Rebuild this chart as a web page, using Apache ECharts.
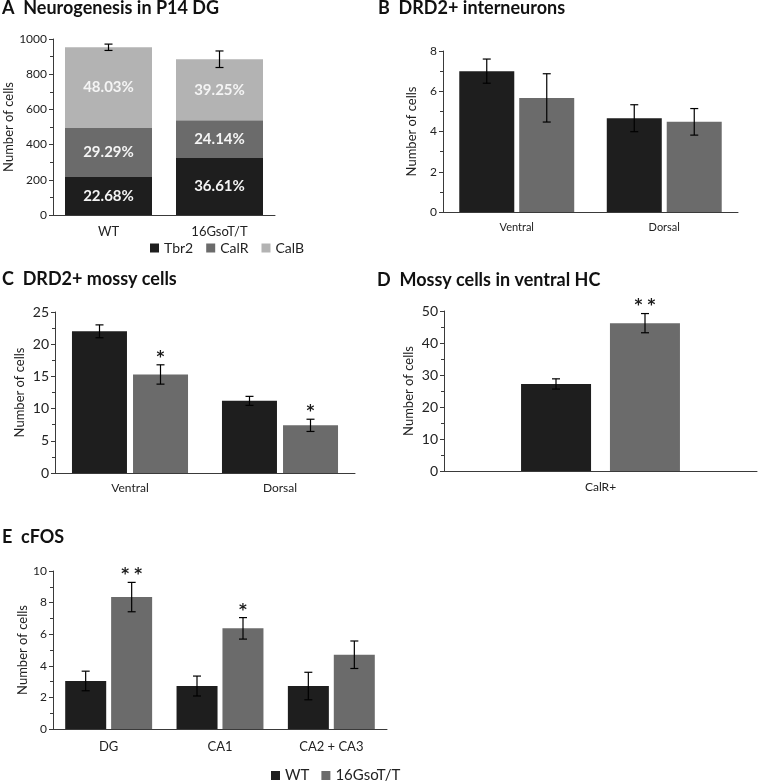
<!DOCTYPE html>
<html>
<head>
<meta charset="utf-8">
<script src="https://cdn.jsdelivr.net/npm/echarts@6/dist/echarts.min.js"></script>
<style>
html,body{margin:0;padding:0;background:#fff;}
#c{width:759px;height:782px;}
</style>
</head>
<body>
<div id="c"></div>
<script>
// ---------- DATA ----------
// Panel A: Neurogenesis in P14 DG (stacked)
const aCats = ['WT', '16GsoT/T'];
const aTbr2 = [216, 324];
const aCalR = [279, 214];
const aCalB = [458, 347];
const aTbr2Pct = ['22.68%', '36.61%'];
const aCalRPct = ['29.29%', '24.14%'];
const aCalBPct = ['48.03%', '39.25%'];
const aTotalErr = [18, 47];

// Panel B: DRD2+ interneurons
const bCats = ['Ventral', 'Dorsal'];
const bWT = [7.0, 4.66];
const bWTErr = [0.6, 0.67];
const bTg = [5.67, 4.48];
const bTgErr = [1.2, 0.66];

// Panel C: DRD2+ mossy cells
const cCats = ['Ventral', 'Dorsal'];
const cWT = [22.0, 11.2];
const cWTErr = [1.0, 0.7];
const cTg = [15.3, 7.4];
const cTgErr = [1.5, 0.95];
const cTgSig = ['*', '*'];

// Panel D: Mossy cells in ventral HC
const dCats = ['CalR+'];
const dWT = [27.2];
const dWTErr = [1.6];
const dTg = [46.2];
const dTgErr = [3.0];
const dTgSig = ['* *'];

// Panel E: cFOS
const eCats = ['DG', 'CA1', 'CA2 + CA3'];
const eWT = [3.04, 2.72, 2.72];
const eWTErr = [0.62, 0.63, 0.87];
const eTg = [8.35, 6.37, 4.70];
const eTgErr = [0.93, 0.68, 0.87];
const eTgSig = ['* *', '*', ''];

// ---------- STYLE ----------
const FONT = 'Lato';
const C_WT = '#1e1e1e';
const C_TG = '#6b6b6b';
const C_CALB = '#b3b3b3';
const AX = '#3a3a3a';

const chart = echarts.init(document.getElementById('c'), null, {renderer: 'canvas'});

function yAxisDef(gi, max, interval, fs, nameGap) {
  return {
    gridIndex: gi, type: 'value', min: 0, max: max, interval: interval,
    name: 'Number of cells', nameLocation: 'middle', nameGap: nameGap,
    nameTextStyle: {fontFamily: FONT, fontSize: 13, color: '#222'},
    axisLine: {show: true, lineStyle: {color: AX, width: 1}},
    axisTick: {show: true, length: 4, lineStyle: {color: AX}},
    minorTick: {show: true, splitNumber: 2, length: 3, lineStyle: {color: AX}},
    splitLine: {show: false},
    axisLabel: {fontFamily: FONT, fontSize: fs, color: '#222', margin: 6, formatter: v => String(v)}
  };
}
function xAxisDef(gi, cats, fs, margin) {
  return {
    gridIndex: gi, type: 'category', data: cats,
    axisLine: {show: true, lineStyle: {color: AX, width: 1}},
    axisTick: {show: false},
    axisLabel: {fontFamily: FONT, fontSize: fs, color: '#222', margin: margin}
  };
}

// error bar custom series; offset in px from band center; sig text optional
function errSeries(gi, vals, errs, offset, sig) {
  return {
    type: 'custom', xAxisIndex: gi, yAxisIndex: gi, z: 10, silent: true,
    data: vals.map((v, i) => [i, v, errs[i]]),
    renderItem: function (params, api) {
      const i = api.value(0), v = api.value(1), e = api.value(2);
      const s = sig ? sig[i] : '';
      const hi = api.coord([i, v + e]);
      const lo = api.coord([i, v - e]);
      const x = hi[0] + offset;
      const cap = 4;
      const st = {stroke: '#000', lineWidth: 1.2};
      const ch = [
        {type: 'line', shape: {x1: x, y1: hi[1], x2: x, y2: lo[1]}, style: st},
        {type: 'line', shape: {x1: x - cap, y1: hi[1], x2: x + cap, y2: hi[1]}, style: st},
        {type: 'line', shape: {x1: x - cap, y1: lo[1], x2: x + cap, y2: lo[1]}, style: st}
      ];
      if (s) {
        ch.push({type: 'text', style: {text: s, x: x, y: hi[1] - 7, align: 'center', verticalAlign: 'middle',
          font: 'bold 15px "DejaVu Sans"', fill: '#1a1a1a'}});
      }
      return {type: 'group', children: ch};
    }
  };
}

function barSeries(name, gi, data, color, bw, gap) {
  return {
    name: name, type: 'bar', xAxisIndex: gi, yAxisIndex: gi, data: data,
    barWidth: bw, barGap: gap, itemStyle: {color: color}, silent: true
  };
}

const aTotals = aTbr2.map((v, i) => v + aCalR[i] + aCalB[i]);
function pctLabel(arr) {
  return {show: true, position: 'inside', formatter: p => arr[p.dataIndex],
    fontFamily: FONT, fontWeight: 'bold', fontSize: 15, color: '#f4f4f4'};
}

const titleStyle = {fontFamily: FONT, fontWeight: 'bold', fontSize: 18, color: '#111'};

const option = {
  animation: false,
  backgroundColor: '#fff',
  title: [
    {text: 'A  Neurogenesis in P14 DG', left: 2, top: -1, textStyle: titleStyle, padding: 0},
    {text: 'B  DRD2+ interneurons', left: 378, top: -1, textStyle: titleStyle, padding: 0},
    {text: 'C  DRD2+ mossy cells', left: 2, top: 270, textStyle: titleStyle, padding: 0},
    {text: 'D  Mossy cells in ventral HC', left: 377, top: 271, textStyle: titleStyle, padding: 0},
    {text: 'E  cFOS', left: 2, top: 528, textStyle: titleStyle, padding: 0}
  ],
  legend: [
    {data: ['Tbr2', 'CalR', 'CalB'], left: 150, top: 241, itemWidth: 9, itemHeight: 9, itemGap: 13,
      textStyle: {fontFamily: FONT, fontSize: 14, color: '#222'}, selectedMode: false, icon: 'rect', padding: 0},
    {data: ['WT', '16GsoT/T'], left: 271, top: 768, itemWidth: 9, itemHeight: 9, itemGap: 12,
      textStyle: {fontFamily: FONT, fontSize: 15, color: '#222'}, selectedMode: false, icon: 'rect', padding: 0}
  ],
  grid: [
    {left: 53, top: 39, width: 222, height: 176},
    {left: 443, top: 51, width: 295, height: 161},
    {left: 55, top: 312, width: 300, height: 161},
    {left: 444, top: 311, width: 313, height: 160},
    {left: 53, top: 571, width: 334, height: 158}
  ],
  xAxis: [
    xAxisDef(0, aCats, 13, 10),
    xAxisDef(1, bCats, 11, 10),
    xAxisDef(2, cCats, 12, 9),
    xAxisDef(3, dCats, 12, 10),
    xAxisDef(4, eCats, 13, 11)
  ],
  yAxis: [
    yAxisDef(0, 1000, 200, 12, 29),
    yAxisDef(1, 8, 2, 12, 25),
    yAxisDef(2, 25, 5, 14, 29),
    yAxisDef(3, 50, 10, 14, 29),
    yAxisDef(4, 10, 2, 12, 19)
  ],
  series: [
    // A
    Object.assign(barSeries('Tbr2', 0, aTbr2, C_WT, 87, '0%'), {stack: 'a', label: pctLabel(aTbr2Pct)}),
    Object.assign(barSeries('CalR', 0, aCalR, C_TG, 87, '0%'), {stack: 'a', label: pctLabel(aCalRPct)}),
    Object.assign(barSeries('CalB', 0, aCalB, C_CALB, 87, '0%'), {stack: 'a', label: pctLabel(aCalBPct)}),
    errSeries(0, aTotals, aTotalErr, 0, null),
    // B
    barSeries('WT', 1, bWT, C_WT, 55, '9%'),
    barSeries('16GsoT/T', 1, bTg, C_TG, 55, '9%'),
    errSeries(1, bWT, bWTErr, -30, null),
    errSeries(1, bTg, bTgErr, 30, null),
    // C
    barSeries('WT', 2, cWT, C_WT, 55, '11%'),
    barSeries('16GsoT/T', 2, cTg, C_TG, 55, '11%'),
    errSeries(2, cWT, cWTErr, -30.5, null),
    errSeries(2, cTg, cTgErr, 30.5, cTgSig),
    // D
    barSeries('WT', 3, dWT, C_WT, 70, '27%'),
    barSeries('16GsoT/T', 3, dTg, C_TG, 70, '27%'),
    errSeries(3, dWT, dWTErr, -44.5, null),
    errSeries(3, dTg, dTgErr, 44.5, dTgSig),
    // E
    barSeries('WT', 4, eWT, C_WT, 41, '12%'),
    barSeries('16GsoT/T', 4, eTg, C_TG, 41, '12%'),
    errSeries(4, eWT, eWTErr, -23, null),
    errSeries(4, eTg, eTgErr, 23, eTgSig)
  ]
};
chart.setOption(option);
</script>
</body>
</html>
